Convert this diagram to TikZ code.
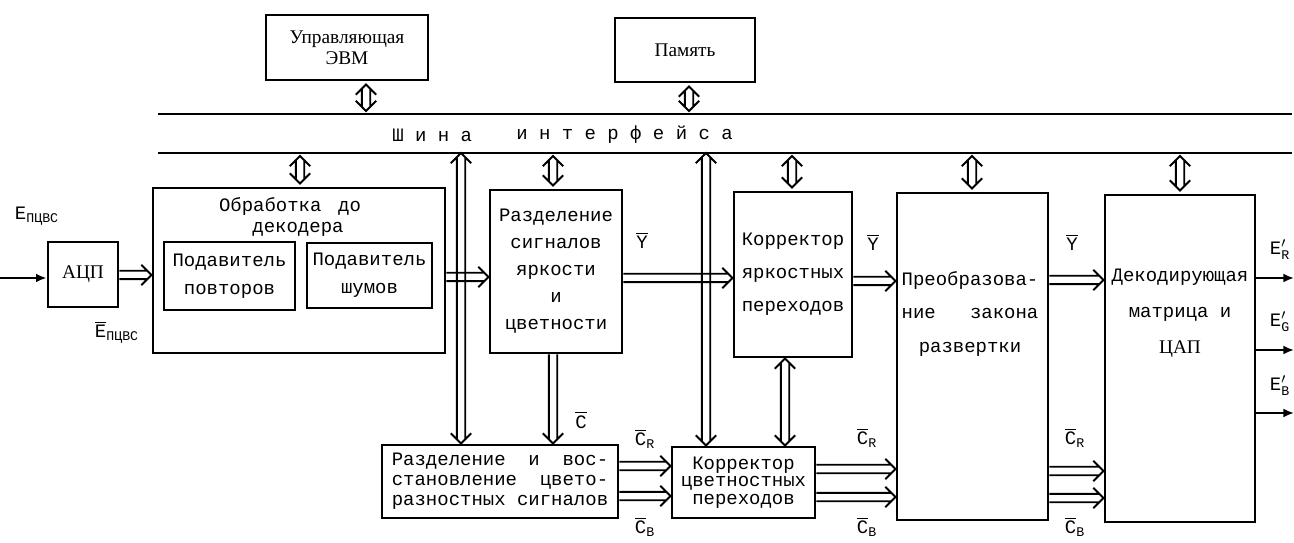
\documentclass[tikz,border=0pt]{standalone}
\usepackage{fontspec}
\usepackage{amsmath}
\setmainfont{Liberation Mono}
\newfontfamily\serf{Liberation Serif}
\usetikzlibrary{calc,arrows.meta}
\newcommand\ovl[1]{$\overline{\text{#1}}$}
\newcommand\ovsub[2]{$\overline{\text{#1}}_{\text{#2}}$}
\newcommand\eprime[1]{$\text{E}^{\prime}_{\text{#1}}$}
\newcommand\hgap{2.4pt}
\newcommand\hwid{5.8pt}
\newcommand\hlen{5.8pt}
\newcommand\hend{2.4pt}
\newcommand\bx[7][]{\node[box,minimum width={(#5-#3)*0.02cm},minimum height={(#6-#4)*0.02cm},#1] (#2) at ({(#3+#5)/2},{(#4+#6)/2}) {#7};}
\tikzset{
  box/.style={draw, line width=1.6pt, inner sep=0pt, align=center},
  tx/.style={font=\fontsize{10.8}{#1}\selectfont, align=center, inner sep=0pt},
  tx/.default=13,
  sf/.style={font=\serf\fontsize{11}{13}\selectfont},
  hollowR/.style={line width=1.1pt, to path={let \p1=(\tikztostart), \p2=(\tikztotarget) in
     (\x1,\y1+\hgap) -- (\x2-\hend,\y1+\hgap) (\x1,\y1-\hgap) -- (\x2-\hend,\y1-\hgap)
     (\x2-\hlen,\y1+\hwid) -- (\x2,\y1) -- (\x2-\hlen,\y1-\hwid)}},
  hollowD/.style={line width=1.1pt, to path={let \p1=(\tikztostart), \p2=(\tikztotarget) in
     (\x1+\hgap,\y1) -- (\x1+\hgap,\y2+\hend) (\x1-\hgap,\y1) -- (\x1-\hgap,\y2+\hend)
     (\x1-\hwid,\y2+\hlen) -- (\x1,\y2) -- (\x1+\hwid,\y2+\hlen)}},
  hollowUD/.style={line width=1.1pt, to path={let \p1=(\tikztostart), \p2=(\tikztotarget) in
     (\x1+\hgap,\y1-\hend) -- (\x1+\hgap,\y2+\hend) (\x1-\hgap,\y1-\hend) -- (\x1-\hgap,\y2+\hend)
     (\x1-\hwid,\y1-\hlen) -- (\x1,\y1) -- (\x1+\hwid,\y1-\hlen)
     (\x1-\hwid,\y2+\hlen) -- (\x1,\y2) -- (\x1+\hwid,\y2+\hlen)}},
  thinarrow/.style={line width=1.1pt, -{Latex[length=6pt,width=5pt]}},
  busline/.style={line width=1.6pt},
  lbl/.style={font=\fontsize{10.8}{13}\selectfont, inner sep=0pt}
}
\begin{document}
\begin{tikzpicture}[x=0.02cm,y=-0.02cm]
\useasboundingbox (0,0) rectangle (1294,543);
% ---- boxes ----
\bx[sf]{evm}{266}{15}{428}{80}{Управляющая\\[-1pt]ЭВМ}
\bx[sf]{mem}{615}{18}{755}{82}{Память}
\bx[sf]{adc}{48}{242}{118}{307}{АЦП}
\bx{proc}{153}{188}{445}{353}{}
\bx[tx=15.9]{rep}{164}{242}{295}{310}{Подавитель\\повторов}
\bx[tx=15.9]{noise}{307}{243}{432}{308}{Подавитель\\шумов}
\bx[tx=15.4]{sep}{490}{190}{622}{353}{Разделение\\сигналов\\яркости\\и\\цветности}
\bx[tx=18.8]{ycor}{734}{192}{852}{357}{Корректор\\яркостных\\переходов}
\bx{scan}{897}{193}{1048}{520}{}
\bx{dec}{1105}{195}{1255}{522}{}
\bx[tx=11.3]{cd}{382}{445}{618}{518}{Разделение~~и~~вос-\\становление~~цвето-\\разностных сигналов}
\bx[tx=10]{ccor}{672}{447}{815}{518}{Корректор\\цветностных\\переходов}
% texts inside big boxes
\node[tx] (proct1) at (290,207) {Обработка\kern3pt~до};
\node[tx] (proct2) at (298,229) {декодера};
\node[tx=18.8] (scant) at (970,314) {Преобразова-\\ние~~~закона\\развертки};
\node[tx=20.5] (dect) at (1180,313) {Декодирующая\\матрица и\\{\serf\fontsize{11}{13}\selectfont ЦАП}};
% ---- bus ----
\coordinate (b1w) at (158,114); \coordinate (b1e) at (1292,114);
\coordinate (b2w) at (158,153); \coordinate (b2e) at (1292,153);
\draw[busline] (b1w) -- (b1e);
\draw[busline] (b2w) -- (b2e);
\node[lbl, anchor=west] (busA) at (392,135) {Ш~и~н~а};
\node[lbl, anchor=west] (busB) at (516,135) {и~н~т~е~р~ф~е~й~с~а};
% bus taps
\coordinate (tE) at (366,114);
\coordinate (tM) at (689,114);
\coordinate (tP) at (300,153);
\coordinate (tL1) at (461,153);
\coordinate (tS) at (553,153);
\coordinate (tL2) at (706,153);
\coordinate (tY) at (792,153);
\coordinate (tZ) at (972,153);
\coordinate (tD) at (1180,153);
\draw[hollowUD] ($(evm.south -| tE)+(0,3)$) to ($(tE)+(0,-3)$);
\draw[hollowUD] ($(mem.south -| tM)+(0,3)$) to ($(tM)+(0,-3)$);
\draw[hollowUD] ($(tP)+(0,3)$) to ($(tP |- proc.north)+(0,-3)$);
\draw[hollowUD] ($(tS)+(0,3)$) to ($(tS |- sep.north)+(0,-3)$);
\draw[hollowUD] ($(tY)+(0,3)$) to ($(tY |- ycor.north)+(0,-3)$);
\draw[hollowUD] ($(tZ)+(0,3)$) to ($(tZ |- scan.north)+(0,-3)$);
\draw[hollowUD] ($(tD)+(0,3)$) to ($(tD |- dec.north)+(0,-3)$);
\draw[hollowUD] (tL1) to (tL1 |- cd.north);
\draw[hollowUD] (tL2) to (tL2 |- ccor.north);
\draw[hollowUD] (ycor.south -| 785,0) to (ccor.north -| 785,0);
\draw[hollowD] (sep.south -| tS) to (cd.north -| tS);
% ---- input / ADC ----
\coordinate (in) at (0,278);
\draw[thinarrow] (in) -- (in -| adc.west);
\node[lbl] (ein) at (37,216) {$\text{E}_{\text{ПЦВС}}$};
\node[lbl] (ebar) at (117,332) {\ovsub{E}{ПЦВС}};
% ---- horizontal hollow arrows ----
\draw[hollowR] (adc.east |- 0,275) to (proc.west |- 0,275);
\draw[hollowR] (proc.east |- 0,277) to (sep.west |- 0,277);
\draw[hollowR] (sep.east |- 0,278) to (ycor.west |- 0,278);
\draw[hollowR] (ycor.east |- 0,281) to (scan.west |- 0,281);
\draw[hollowR] (scan.east |- 0,280) to (dec.west |- 0,280);
\draw[hollowR] (cd.east |- 0,466) to (ccor.west |- 0,466);
\draw[hollowR] (cd.east |- 0,496) to (ccor.west |- 0,496);
\draw[hollowR] (ccor.east |- 0,469) to (scan.west |- 0,469);
\draw[hollowR] (ccor.east |- 0,497) to (scan.west |- 0,497);
\draw[hollowR] (scan.east |- 0,471) to (dec.west |- 0,471);
\draw[hollowR] (scan.east |- 0,498) to (dec.west |- 0,498);
% labels
\node[lbl] (y1) at (642,240) {\ovl{Y}};
\node[lbl] (y2) at (873,242) {\ovl{Y}};
\node[lbl] (y3) at (1072,242) {\ovl{Y}};
\node[lbl] (c0) at (581,420) {\ovl{C}};
\node[lbl] (cr1) at (645,439) {\ovsub{C}{R}};
\node[lbl] (cb1) at (645,527) {\ovsub{C}{B}};
\node[lbl] (cr2) at (867,438) {\ovsub{C}{R}};
\node[lbl] (cb2) at (867,527) {\ovsub{C}{B}};
\node[lbl] (cr3) at (1075,438) {\ovsub{C}{R}};
\node[lbl] (cb3) at (1075,527) {\ovsub{C}{B}};
% ---- outputs ----
\coordinate (oR) at (1294,278);
\coordinate (oG) at (1294,350);
\coordinate (oB) at (1294,413);
\draw[thinarrow] (dec.east |- oR) -- (oR);
\draw[thinarrow] (dec.east |- oG) -- (oG);
\draw[thinarrow] (dec.east |- oB) -- (oB);
\node[lbl] (eR) at (1280,250) {\eprime{R}};
\node[lbl] (eG) at (1280,322) {\eprime{G}};
\node[lbl] (eB) at (1280,386) {\eprime{B}};
\end{tikzpicture}
\end{document}
